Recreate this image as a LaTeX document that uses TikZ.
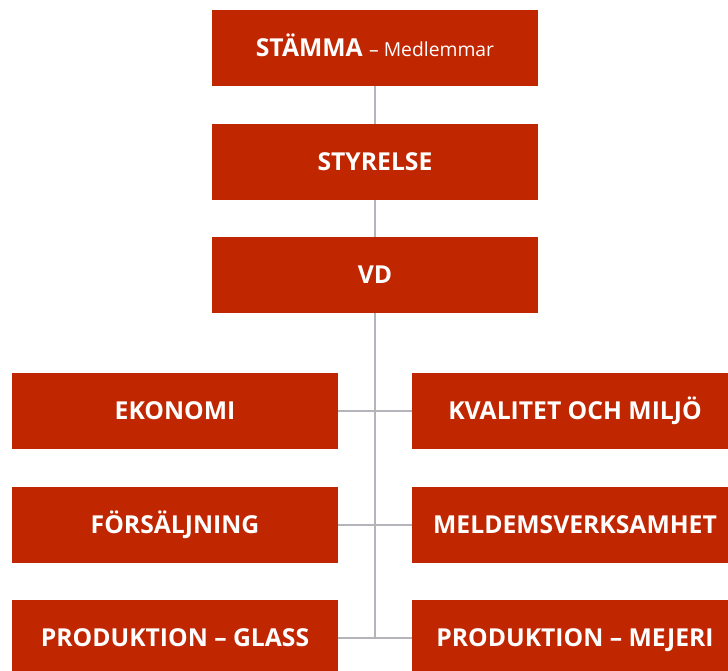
\documentclass[tikz,border=0pt]{standalone}
\usepackage{fontspec}
\setmainfont{Open Sans}
\definecolor{boxred}{RGB}{192,38,0}
\definecolor{linegray}{RGB}{180,180,186}
\newcommand{\subtext}[1]{{\mdseries\fontsize{19.3}{23}\selectfont#1}}
\begin{document}
\begin{tikzpicture}[x=1pt, y=1pt,
    box/.style={rectangle, fill=boxred, minimum width=326pt, minimum height=76pt, inner sep=0pt,
        text height=17.6pt, text depth=0pt, text=white, font=\bfseries\fontsize{24.7}{28}\selectfont},
    link/.style={draw=linegray, line width=2.2pt}
]
\useasboundingbox (0,0) rectangle (728,670);
\clip (0,0) rectangle (728,670);
% top chain
\node[box] (stamma) at (375,622) {STÄMMA \subtext{– Medlemmar}};
\node[box] (styrelse) at (375,508) {STYRELSE};
\node[box] (vd) at (375,395) {VD};
% departments
\node[box] (ekonomi) at (175,259) {EKONOMI};
\node[box] (kvalitet) at (575,259) {KVALITET OCH MILJÖ};
\node[box] (forsaljning) at (175,145) {FÖRSÄLJNING};
\node[box] (meldems) at (575,145) {MELDEMSVERKSAMHET};
\node[box] (glass) at (175,32) {PRODUKTION – GLASS};
\node[box] (mejeri) at (575,32) {PRODUKTION – MEJERI};
% connectors
\draw[link] (stamma) -- (styrelse);
\draw[link] (styrelse) -- (vd);
\draw[link] (vd.south) -- (vd.south |- glass.east);
\draw[link] (ekonomi.east) -- (kvalitet.west);
\draw[link] (forsaljning.east) -- (meldems.west);
\draw[link] (glass.east) -- (mejeri.west);
\end{tikzpicture}
\end{document}
